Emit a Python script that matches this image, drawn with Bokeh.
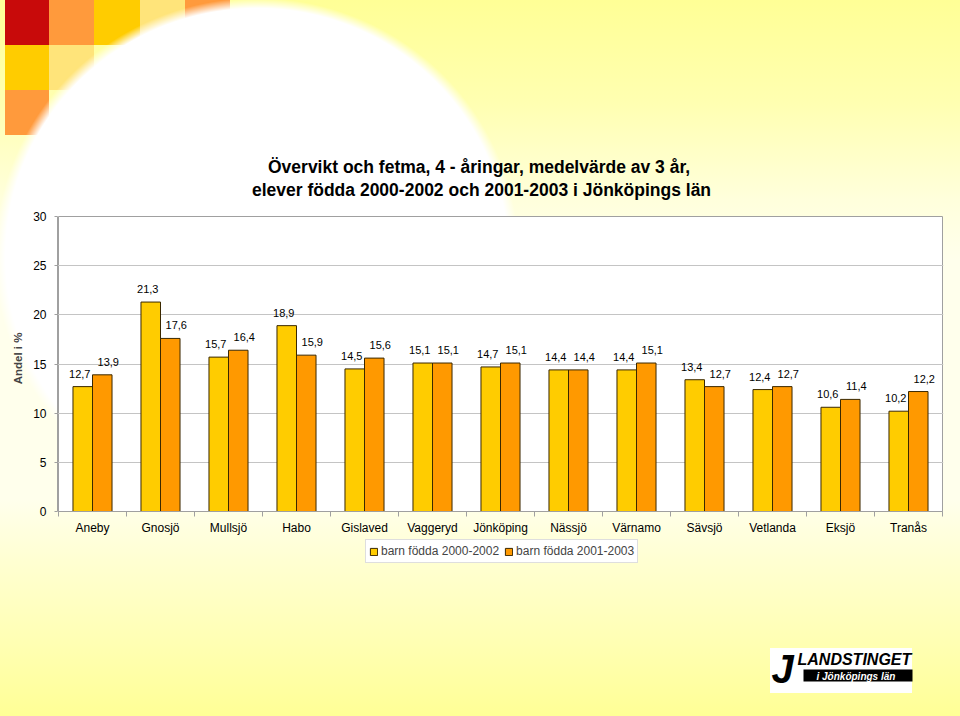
from bokeh.plotting import figure
from bokeh.models import (Range1d, FixedTicker, ColumnDataSource, Legend, LegendItem, Label,
                          BoxAnnotation)
from bokeh.core.properties import value
from bokeh.embed import file_html
from bokeh.resources import INLINE

# ---------------- data ----------------
kommuner = ["Aneby", "Gnosjö", "Mullsjö", "Habo", "Gislaved", "Vaggeryd", "Jönköping",
            "Nässjö", "Värnamo", "Sävsjö", "Vetlanda", "Eksjö", "Tranås"]
fodda_2000_2002 = [12.7, 21.3, 15.7, 18.9, 14.5, 15.1, 14.7, 14.4, 14.4, 13.4, 12.4, 10.6, 10.2]
fodda_2001_2003 = [13.9, 17.6, 16.4, 15.9, 15.6, 15.1, 15.1, 14.4, 15.1, 12.7, 12.7, 11.4, 12.2]
series_names = ["barn födda 2000-2002", "barn födda 2001-2003"]
y_ticks = [0, 5, 10, 15, 20, 25, 30]
title_lines = ["Övervikt och fetma, 4 - åringar,  medelvärde av 3 år,",
               "elever födda 2000-2002 och 2001-2003 i Jönköpings län"]
y_label = "Andel i %"
logo_lines = ["LANDSTINGET", "i Jönköpings län"]

FONT = "Liberation Sans"

# ---------------- geometry (page pixels) ----------------
W, H = 960, 716
PL, PR, PT, PB = 58, 942, 216, 511          # plot area in page pixels
FH = H                                       # the frame spans the whole height
n = len(kommuner)
ymax = y_ticks[-1]
kx = (PR - PL) / n                           # px per category
ky = (PB - PT) / ymax                        # px per percent
y_end = ymax + PT / ky
y_start = y_end - FH / ky
x_start = -1 / kx
x_end = n + 1 / kx


def dx(page_x):
    return (page_x - PL) / kx


def dy(page_y):
    return ymax + (PT - page_y) / ky


# ---------------- slide background (CSS behind a transparent canvas) ----------------
def rect(color, x, y, w, h):
    return f"linear-gradient({color},{color}) {x}px {y}px / {w}px {h}px no-repeat"


bg_layers = [
    rect("#FFFFFF", 770, 648, 142, 45),                                   # logo plate
    "radial-gradient(262px 258px at 257px 256px, #FFFFFF 96%, rgba(255,255,255,0) 100%) "
    "0px 0px / 100% 100% no-repeat",                                      # white swoosh
    rect("#C80A0A", 5, 0, 44, 45), rect("#FF9A3C", 49, 0, 45, 45), rect("#FFCC00", 94, 0, 46, 45),
    rect("#FFE47A", 140, 0, 45, 45), rect("#FF9A3C", 185, 0, 45, 45),
    rect("#FFCC00", 5, 45, 44, 45), rect("#FFE47A", 49, 45, 45, 45),
    rect("#FF9A3C", 5, 90, 44, 45),
    "linear-gradient(to bottom, #FFFF96 0px, #FFFFB0 100px, #FFFFDC 200px, #FFFFEC 260px, "
    "#FFFFEC 500px, #FFFFD2 560px, #FFFFB4 640px, #FFFF96 716px)",
]

p = figure(width=W, height=H, x_range=Range1d(x_start, x_end), y_range=Range1d(y_start, y_end),
           output_backend="svg", toolbar_location=None, tools="", title=None,
           min_border_left=PL - 1, min_border_right=W - PR - 1, min_border_top=0,
           min_border_bottom=0, background_fill_color=None, border_fill_color=None,
           outline_line_color=None)
p.styles = {"background": ", ".join(bg_layers)}

# white plot area with grey border
plot_bg = p.quad(left=[0], right=[n], bottom=[0], top=[ymax], fill_color="white",
                 line_color="#A0A0A0", line_width=1)
plot_bg.level = "image"

# ---------------- bars ----------------
BW = 0.287
centers = [i + 0.5 for i in range(n)]


def fmt(v):
    return ("%.1f" % v).replace(".", ",")


src_a = ColumnDataSource(dict(x=[c - BW / 2 for c in centers], top=fodda_2000_2002,
                              label=[fmt(v) for v in fodda_2000_2002]))
src_b = ColumnDataSource(dict(x=[c + BW / 2 for c in centers], top=fodda_2001_2003,
                              label=[fmt(v) for v in fodda_2001_2003]))

r_a = p.vbar(x="x", top="top", bottom=0, width=BW, source=src_a,
             fill_color="#FFCC00", line_color="#3A2800", line_width=1)
r_b = p.vbar(x="x", top="top", bottom=0, width=BW, source=src_b,
             fill_color="#FF9900", line_color="#3A2800", line_width=1)

for src, xo in ((src_a, -3), (src_b, 6)):
    p.text(x="x", y="top", text="label", source=src, x_offset=xo, y_offset=-13,
           text_align="center", text_baseline="middle", text_font=value(FONT),
           text_font_size="11px", text_color="black")

# ---------------- axes & grid ----------------
p.xgrid.visible = False
p.yaxis.ticker = FixedTicker(ticks=y_ticks)
p.ygrid.ticker = FixedTicker(ticks=y_ticks[1:-1])
p.ygrid.grid_line_color = "#C4C4C4"
p.ygrid.bounds = (0, n)

p.yaxis.bounds = (0, ymax)
p.yaxis.axis_label = y_label
p.yaxis.axis_label_text_font = FONT
p.yaxis.axis_label_text_font_style = "bold"
p.yaxis.axis_label_text_font_size = "11.5px"
p.yaxis.axis_label_standoff = 6
p.yaxis.major_label_text_font = FONT
p.yaxis.major_label_text_font_size = "12px"
p.yaxis.major_label_text_color = "black"
p.yaxis.major_label_standoff = 8
p.yaxis.axis_line_color = "#A0A0A0"
p.yaxis.major_tick_line_color = "#A0A0A0"
p.yaxis.major_tick_out = 3
p.yaxis.major_tick_in = 0
p.yaxis.minor_tick_line_color = None

p.xaxis.fixed_location = 0
p.xaxis.bounds = (0, n)
p.xaxis.ticker = FixedTicker(ticks=centers, minor_ticks=list(range(n + 1)))
p.xaxis.major_label_overrides = {c: k for c, k in zip(centers, kommuner)}
p.xaxis.major_label_text_font = FONT
p.xaxis.major_label_text_font_size = "12px"
p.xaxis.major_label_text_color = "black"
p.xaxis.major_label_standoff = 4
p.xaxis.axis_line_color = "#A0A0A0"
p.xaxis.major_tick_line_color = None
p.xaxis.major_tick_out = 5
p.xaxis.major_tick_in = 0
p.xaxis.minor_tick_line_color = "#A0A0A0"
p.xaxis.minor_tick_out = 5
p.xaxis.minor_tick_in = 0

# ---------------- legend (inside the tall frame, below the x axis) ----------------
legend = Legend(items=[LegendItem(label=series_names[0], renderers=[r_a]),
                       LegendItem(label=series_names[1], renderers=[r_b])],
                orientation="horizontal", location=(365 - (PL - 1), FH - 563),
                label_text_font=FONT, label_text_font_size="12px",
                label_standoff=3, glyph_width=9, glyph_height=9,
                label_height=16, padding=3, spacing=5, margin=0,
                border_line_color="#BDBDBD", background_fill_color="white",
                background_fill_alpha=1)
p.add_layout(legend, "center")

# ---------------- title ----------------
for line, py in zip(title_lines, (166, 189)):
    p.add_layout(Label(x=dx(481), y=dy(py), text=line, text_align="center",
                       text_baseline="middle", text_font=FONT, text_font_size="17.5px",
                       text_font_style="bold", text_color="black"))

# ---------------- logo ----------------
p.add_layout(BoxAnnotation(left=dx(803), right=dx(912), top=dy(669), bottom=dy(681),
                           fill_color="black", fill_alpha=1, line_color=None))
p.add_layout(Label(x=dx(771), y=dy(668), text="J", text_align="left", text_baseline="middle",
                   text_font=FONT, text_font_size="40px", text_font_style="bold italic",
                   text_color="black"))
p.add_layout(Label(x=dx(797), y=dy(659), text=logo_lines[0], text_align="left",
                   text_baseline="middle", text_font=FONT, text_font_size="16px",
                   text_font_style="bold italic", text_color="black"))
p.add_layout(Label(x=dx(816), y=dy(675.5), text=logo_lines[1], text_align="left",
                   text_baseline="middle", text_font=FONT, text_font_size="10px",
                   text_font_style="bold italic", text_color="white"))

open("out.html", "w").write(file_html(p, INLINE))
